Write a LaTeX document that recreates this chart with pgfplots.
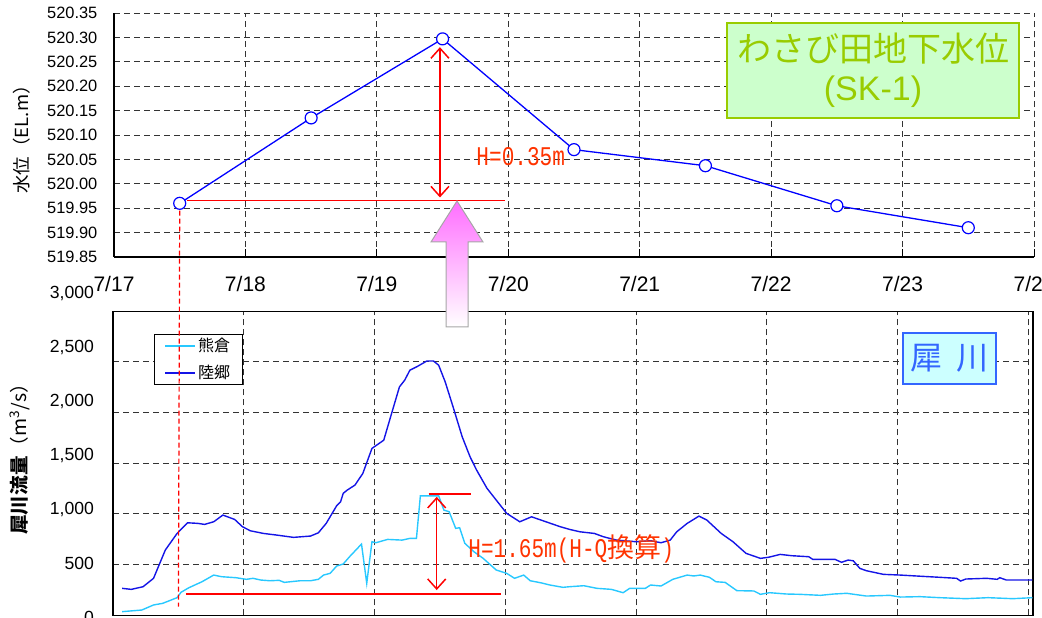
\documentclass[border=0pt]{standalone}
\usepackage{fontspec}
\setmainfont{Liberation Sans}
\newfontfamily\jp{Noto Sans CJK JP}
\newfontfamily\jplabel[FakeStretch=1.03]{Noto Sans CJK JP}
\newfontfamily\mono[FakeStretch=0.78]{Liberation Mono}
\usepackage{pgfplots}
\pgfplotsset{compat=1.18}
\usetikzlibrary{arrows.meta}

\definecolor{gwblue}{RGB}{0,0,255}
\definecolor{rikugo}{RGB}{20,20,230}
\definecolor{kumakura}{RGB}{40,200,255}
\definecolor{annred}{RGB}{255,0,0}
\definecolor{anntext}{RGB}{255,51,0}
\definecolor{titlegreen}{RGB}{153,204,0}
\definecolor{titlefill}{RGB}{204,255,204}
\definecolor{riverblue}{RGB}{51,102,255}
\definecolor{riverfill}{RGB}{204,255,255}
\definecolor{arrowpink}{RGB}{255,110,255}

\pgfplotsset{
  chartgrid/.style={
    grid=major,
    major grid style={black!80, line width=0.5bp, dash pattern=on 3bp off 2bp},
  },
}

\begin{document}
\begin{tikzpicture}

% ---- groundwater level at the wasabi field (SK-1) ----
\begin{axis}[
  at={(57bp,180.5bp)}, anchor=south west,
  scale only axis, width=460bp, height=122bp,
  xmin=17, xmax=24, ymin=519.85, ymax=520.35,
  axis lines*=left,
  axis line style={-, line width=0.75bp, black},
  chartgrid,
  xtick={17,18,19,20,21,22,23,24},
  xticklabels={7/17,7/18,7/19,7/20,7/21,7/22,7/23,7/24},
  ytick={519.85,519.90,519.95,520.00,520.05,520.10,520.15,520.20,520.25,520.30,520.35},
  scaled y ticks=false,
  tick align=inside, major tick length=4bp,
  xtick style={black, line width=0.5bp},
  ytick style={draw=none},
  yticklabel style={font=\fontsize{8.2bp}{9bp}\selectfont, xshift=-4.8bp,
    /pgf/number format/.cd, fixed, fixed zerofill, precision=2, assume math mode=true},
  xticklabel style={font=\fontsize{10.5bp}{12bp}\selectfont, yshift=-6bp},
  ylabel={水位（EL.m）},
  ylabel style={at={(axis description cs:-0.100,0.5)}, anchor=center,
    font=\jplabel\fontsize{9bp}{10bp}\selectfont},
  clip mode=individual,
]
\addplot[gwblue, line width=0.65bp, mark=*, mark size=3bp,
  mark options={fill=white, draw=gwblue, line width=0.6bp}] table {
  x      y
  17.5   519.960
  18.5   520.135
  19.5   520.297
  20.5   520.070
  21.5   520.037
  22.5   519.955
  23.5   519.910
};
\coordinate (gwA) at (axis cs:17.5,519.945);
\draw[annred, line width=0.75bp] (axis cs:17.556,519.966) -- (axis cs:19.976,519.966);
\draw[annred, line width=0.75bp,
  {Straight Barb[length=5bp,width=9bp]}-{Straight Barb[length=5bp,width=9bp]}]
  (axis cs:19.48,520.280) -- (axis cs:19.48,519.972);
\node[anchor=base west, text=anntext, inner sep=0pt,
  font=\mono\fontsize{13.5bp}{15bp}\selectfont] at (axis cs:19.755,520.0385) {H=0.35m};
\node[draw=titlegreen, fill=titlefill, line width=0.75bp, text=titlegreen,
  minimum width=146bp, minimum height=47.5bp, align=center, inner sep=0pt,
  font=\fontsize{17bp}{19.5bp}\selectfont]
  at (axis description cs:0.825,0.764) {{\jp わさび田地下水位}\\(SK-1)};
\end{axis}

% ---- Sai River discharge ----
\begin{axis}[
  at={(56.5bp,1.35bp)}, anchor=south west,
  scale only axis, width=460bp, height=152bp,
  xmin=17, xmax=24.034, ymin=0, ymax=3000,
  axis line style={line width=0.75bp, black},
  chartgrid,
  xtick={17,18,19,20,21,22,23,24}, xticklabels={},
  ytick={0,500,1000,1500,2000,2500,3000}, yticklabels={},
  tick style={draw=none},
  ylabel={{\bfseries 犀川流量}（m\textsuperscript{3}/s）},
  ylabel style={at={(axis description cs:-0.101,0.53)}, anchor=center,
    font=\jplabel\fontsize{9.5bp}{11bp}\selectfont},
  legend style={at={(0.0446,0.924)}, anchor=north west, draw=black,
    line width=0.5bp, font=\jp\fontsize{8bp}{9bp}\selectfont,
    inner xsep=5bp, inner ysep=0.5bp, row sep=3.2bp,
    nodes={inner sep=1bp}},
  legend cell align=left,
  legend image code/.code={\draw[#1, line width=0.8bp] (0bp,0bp) -- (15bp,0bp);},
  clip mode=individual,
]
\addplot[kumakura, line width=0.7bp] table {
  x      y
  17.07   36
  17.22   52
  17.31  102
  17.38  118
  17.49  174
  17.52  227
  17.58  272
  17.68  331
  17.77  397
  17.83  381
  17.94  371
  18.02  355
  18.07  365
  18.13  348
  18.20  341
  18.27  345
  18.31  325
  18.43  341
  18.51  341
  18.57  355
  18.61  397
  18.66  414
  18.71  486
  18.76  506
  18.81  580
  18.90  703
  18.94  316
  18.98  726
  19.01  716
  19.10  749
  19.21  742
  19.27  759
  19.32  759
  19.35 1179
  19.42 1179
  19.49 1179
  19.53 1038
  19.57 1022
  19.62  858
  19.65  864
  19.69  710
  19.76  627
  19.83  562
  19.93  447
  20.01  414
  20.07  365
  20.14  397
  20.19  341
  20.27  321
  20.34  299
  20.44  276
  20.49  282
  20.60  292
  20.70  266
  20.81  256
  20.90  223
  20.95  266
  21.07  266
  21.11  299
  21.19  289
  21.28  355
  21.39  397
  21.44  388
  21.49  397
  21.56  375
  21.61  331
  21.68  325
  21.77  243
  21.90  240
  21.95  207
  22.02  223
  22.15  210
  22.25  207
  22.41  197
  22.51  210
  22.61  217
  22.76  190
  22.94  197
  23.02  180
  23.17  184
  23.32  174
  23.52  164
  23.69  174
  23.88  164
  24.03  174
};
\addlegendentry{熊倉}
\addplot[rikugo, line width=0.7bp] table {
  x      y
  17.07  266
  17.14  256
  17.23  282
  17.31  365
  17.40  644
  17.49  808
  17.57  913
  17.65  907
  17.70  897
  17.77  923
  17.84  989
  17.93  946
  17.99  874
  18.05  834
  18.15  808
  18.25  792
  18.38  769
  18.51  782
  18.57  814
  18.63  907
  18.71 1081
  18.74 1120
  18.76 1203
  18.79 1235
  18.85 1285
  18.91 1400
  18.98 1647
  19.07 1728
  19.13 1992
  19.19 2254
  19.23 2320
  19.27 2419
  19.33 2458
  19.40 2510
  19.45 2510
  19.49 2468
  19.54 2303
  19.60 2057
  19.67 1761
  19.73 1564
  19.78 1433
  19.86 1252
  19.93 1137
  20.01 1006
  20.11  923
  20.20  972
  20.31  923
  20.42  874
  20.49  848
  20.57  824
  20.68  808
  20.75  775
  20.85  742
  21.00  726
  21.11  736
  21.19  716
  21.26  742
  21.31  824
  21.39  907
  21.48  979
  21.54  940
  21.65  808
  21.74  726
  21.84  611
  21.95  562
  22.01  572
  22.10  601
  22.19  588
  22.32  578
  22.35  552
  22.52  552
  22.57  523
  22.62  545
  22.66  538
  22.71  463
  22.76  440
  22.89  404
  23.02  397
  23.14  388
  23.32  375
  23.45  365
  23.48  338
  23.52  358
  23.68  365
  23.76  355
  23.78  371
  23.83  348
  23.93  348
  24.03  348
};
\addlegendentry{陸郷}
\coordinate (rvA) at (axis cs:17.5,85);
\draw[annred, line width=0.75bp] (axis cs:17.558,210) -- (axis cs:19.966,210);
\draw[annred, line width=0.75bp] (axis cs:19.414,1196) -- (axis cs:19.737,1196);
\draw[annred, line width=0.75bp,
  {Straight Barb[length=5bp,width=9bp]}-{Straight Barb[length=5bp,width=9bp]}]
  (axis cs:19.475,1169) -- (axis cs:19.475,249);
\node[anchor=base west, text=anntext, inner sep=0pt,
  font=\fontsize{13.5bp}{15bp}\selectfont] at (axis cs:19.714,575)
  {{\mono H=1.65m(H-Q}{\jp 換算}{\mono )}};
\node[draw=riverblue, fill=riverfill, line width=0.75bp, text=riverblue,
  minimum width=46.5bp, minimum height=25.5bp, inner sep=0pt,
  font=\jp\fontsize{16bp}{18bp}\selectfont]
  at (axis description cs:0.909,0.844) {犀\hspace{0.45em}川};
\end{axis}

% tick labels of the discharge axis
\begin{axis}[
  at={(56.5bp,0.5bp)}, anchor=south west,
  scale only axis, width=460bp, height=162bp,
  xmin=0, xmax=1, ymin=0, ymax=3000,
  hide x axis, axis y line*=left,
  y axis line style={draw=none}, ytick style={draw=none},
  ytick={0,500,1000,1500,2000,2500,3000},
  scaled y ticks=false,
  yticklabel style={font=\fontsize{8.8bp}{10bp}\selectfont, xshift=-6bp,
    /pgf/number format/.cd, 1000 sep={,}, assume math mode=true},
]
\end{axis}

% marker from the start of the rise down to the discharge axis
\draw[annred, line width=0.6bp, dash pattern=on 2.5bp off 1.5bp] (gwA) -- (rvA);

% block arrow linking the flood peak to the groundwater peak
\shade[top color=arrowpink, bottom color=white, draw=gray!70, line width=0.5bp]
  (228.5bp,208.5bp) -- (241.5bp,188bp) -- (234bp,188bp) -- (234bp,145.5bp)
  -- (223bp,145.5bp) -- (223bp,188bp) -- (215.5bp,188bp) -- cycle;

\pgfresetboundingbox
\path[use as bounding box] (0bp,0bp) rectangle (521bp,309bp);
\end{tikzpicture}
\end{document}
